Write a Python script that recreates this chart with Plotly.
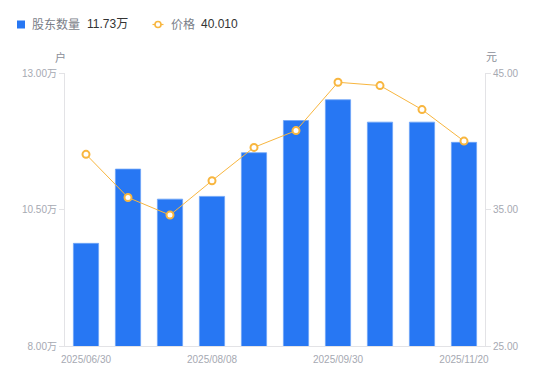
import plotly.graph_objects as go

dates = ["2025/06/30", "2025/07/10", "2025/07/20", "2025/08/08", "2025/08/20",
         "2025/08/29", "2025/09/30", "2025/10/20", "2025/10/31", "2025/11/20"]
holders = [9.88, 11.24, 10.69, 10.74, 11.54, 12.13, 12.51, 12.10, 12.10, 11.73]  # 万户
price = [39.04, 35.88, 34.59, 37.11, 39.55, 40.78, 44.32, 44.08, 42.32, 40.01]  # 元
x_ticks = ["2025/06/30", "2025/08/08", "2025/09/30", "2025/11/20"]
left_ticks = [8.0, 10.5, 13.0]
right_ticks = [25.0, 35.0, 45.0]

OFF = 8  # page body margin
W, H = 534, 365
L, R, T, B = 57, 57, 65, 27
PW, PH = W - L - R, H - T - B

BLUE = "#2777f3"
ORANGE = "#f8b63f"
TICK = "#a6a9b2"
AXIS = "#e3e3e6"
FONT = "Liberation Sans, Noto Sans CJK SC, sans-serif"


def px(x):
    return (x - OFF - L) / PW


def py(y):
    return (H - B - (y - OFF)) / PH


fig = go.Figure()
fig.add_trace(go.Bar(
    x=dates, y=holders, width=0.6, name="股东数量",
    marker=dict(color=BLUE, line=dict(color="#6fa5f8", width=0.8)),
    yaxis="y", showlegend=False,
))
fig.add_trace(go.Scatter(
    x=dates, y=price, mode="lines+markers", name="价格",
    line=dict(color=ORANGE, width=1),
    marker=dict(symbol="circle", size=7, color="white",
                line=dict(color=ORANGE, width=2)),
    yaxis="y2", showlegend=False,
))

fig.update_layout(
    width=W, height=H,
    margin=dict(l=L, r=R, t=T, b=B, pad=0),
    paper_bgcolor="white", plot_bgcolor="white",
    font=dict(family=FONT, size=10, color=TICK),
    bargap=0.4,
    xaxis=dict(
        type="category", tickmode="array", tickvals=x_ticks, ticktext=x_ticks,
        showgrid=False, showline=True, linecolor=AXIS, linewidth=1,
        ticks="", tickfont=dict(size=10, color=TICK), zeroline=False,
        ticklabelstandoff=4, automargin=False,
        range=[-0.5, len(dates) - 0.5],
    ),
    yaxis=dict(
        range=[8, 13], tickmode="array", tickvals=left_ticks,
        ticktext=[f"{v:.2f}万" for v in left_ticks],
        showgrid=False, showline=True, linecolor=AXIS, linewidth=1,
        ticks="outside", ticklen=5, tickcolor=AXIS, automargin=False,
        tickfont=dict(size=10, color=TICK), zeroline=False,
    ),
    yaxis2=dict(
        range=[25, 45], overlaying="y", side="right", tickmode="array",
        tickvals=right_ticks, ticktext=[f"{v:.2f}" for v in right_ticks],
        showgrid=False, showline=True, linecolor=AXIS, linewidth=1,
        ticks="outside", ticklen=5, tickcolor=AXIS, automargin=False,
        tickfont=dict(size=10, color=TICK), zeroline=False,
    ),
)

shapes = [
    dict(type="rect", xref="paper", yref="paper",
         x0=px(17), x1=px(25), y0=py(28.5), y1=py(20.5),
         fillcolor=BLUE, line=dict(width=0)),
    dict(type="line", xref="paper", yref="paper",
         x0=px(152.5), x1=px(163.5), y0=py(24.5), y1=py(24.5),
         line=dict(color=ORANGE, width=1.2)),
    dict(type="circle", xref="paper", yref="paper",
         x0=px(155), x1=px(161), y0=py(27.5), y1=py(21.5),
         fillcolor="white", line=dict(color=ORANGE, width=1.6)),
]
fig.update_layout(shapes=shapes)

ann = [
    dict(text="股东数量", x=px(30), y=py(24.5), color="#7a7e88", size=12),
    dict(text=f"{holders[-1]:.2f}万", x=px(85), y=py(24.5), color="#333333", size=12),
    dict(text="价格", x=px(169), y=py(24.5), color="#7a7e88", size=12),
    dict(text=f"{price[-1]:.3f}", x=px(199), y=py(24.5), color="#333333", size=12),
    dict(text="户", x=px(53), y=py(57), color="#8a8e98", size=11),
    dict(text="元", x=px(484), y=py(57), color="#8a8e98", size=11),
]
for a in ann:
    fig.add_annotation(
        text=a["text"], x=a["x"], y=a["y"], xref="paper", yref="paper",
        xanchor="left", yanchor="middle", showarrow=False,
        font=dict(family=FONT, size=a["size"], color=a["color"]),
    )

fig.write_html("out.html")
